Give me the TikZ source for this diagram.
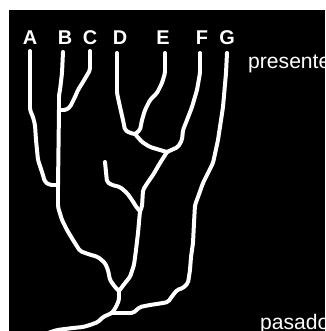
\documentclass[tikz,border=0pt]{standalone}
\usepackage{fontspec}
\setmainfont{Liberation Sans}
\usepackage{tikz}
\tikzset{
 br/.style={draw=white,line width=3.4pt,line cap=round,line join=round,rounded corners=1.5pt},
 lb/.style={text=white,inner sep=0pt,anchor=base,font=\fontsize{17}{20}\selectfont\bfseries},
 tx/.style={text=white,inner sep=0pt,anchor=base west,font=\fontsize{18}{21}\selectfont}}

\begin{document}
\begin{tikzpicture}[x=0.03cm,y=-0.03cm]
 \useasboundingbox (0,0) rectangle (325,331);
 \fill[white] (0,0) rectangle (325,331);
 \fill[black] (9,10) rectangle (325,331);
 \node[lb] (lA) at (30,44) {A};
 \node[lb] (lB) at (65,44) {B};
 \node[lb] (lC) at (90,44) {C};
 \node[lb] (lD) at (120,44) {D};
 \node[lb] (lE) at (163,44) {E};
 \node[lb] (lF) at (202,44) {F};
 \node[lb] (lG) at (227,44) {G};
 \node[tx] (now) at (248,68) {presente};
 \node[tx] (past) at (260,329) {pasado};
 \coordinate (tA) at (30,51);
 \coordinate (tB) at (63,52);
 \coordinate (tC) at (90,51);
 \coordinate (tD) at (117,53);
 \coordinate (tE) at (165,53);
 \coordinate (tF) at (200,53);
 \coordinate (tG) at (227,53);
 \coordinate (tS) at (105,162);
 \coordinate (jBC) at (59,110);
 \coordinate (jAB) at (58,185);
 \coordinate (jDE) at (135,134);
 \coordinate (jDEF) at (167,152);
 \coordinate (jS) at (140,211);
 \coordinate (jBD) at (119,291);
 \coordinate (jG) at (112,313);
 \coordinate (root) at (48,333);
 \draw[br] (tA) -- (30,110) -- (33,117) -- (35,125) -- (36,140) -- (38,160) -- (42,172) -- (45,182) -- (50,185) -- (jAB);
 \draw[br] (tB) -- (62,73) -- (60,90) -- (59,95) -- (jBC) -- (jAB) -- (58,207) -- (62,220) -- (67,230) -- (73,240) -- (80,251) -- (88,254) -- (98,257) -- (105,263) -- (108,270) -- (110,280) -- (115,287) -- (jBD);
 \draw[br] (tC) -- (90,70) -- (83,82) -- (78,90) -- (75,97) -- (70,107) -- (66,110) -- (jBC);
 \draw[br] (tD) -- (117,93) -- (120,107) -- (123,120) -- (125,130) -- (130,133) -- (jDE);
 \draw[br] (tE) -- (165,73) -- (162,83) -- (157,93) -- (150,100) -- (145,110) -- (142,120) -- (140,130) -- (jDE);
 \draw[br] (jDE) -- (142,142) -- (150,147) -- (160,150) -- (jDEF);
 \draw[br] (tF) -- (200,73) -- (197,90) -- (192,107) -- (187,120) -- (183,130) -- (182,140) -- (178,147) -- (jDEF);
 \draw[br] (jDEF) -- (160,163) -- (153,175) -- (148,182) -- (143,190) -- (142,207) -- (jS) -- (138,233) -- (136,250) -- (134,265) -- (130,277) -- (125,283) -- (jBD);
 \draw[br] (tS) -- (107,182) -- (112,185) -- (120,187) -- (127,193) -- (132,200) -- (137,208) -- (jS);
 \draw[br] (tG) -- (226,73) -- (223,107) -- (218,140) -- (213,163) -- (203,183) -- (198,197) -- (195,205) -- (194,223) -- (193,243) -- (191,257) -- (190,270) -- (188,283) -- (183,288) -- (177,290) -- (173,295) -- (168,302) -- (163,303) -- (150,305) -- (140,307) -- (133,313) -- (jG);
 \draw[br] (jBD) -- (119,300) -- (116,307) -- (jG) -- (103,317) -- (98,322) -- (90,325) -- (83,327) -- (73,328) -- (57,330) -- (root);
\end{tikzpicture}
\end{document}
